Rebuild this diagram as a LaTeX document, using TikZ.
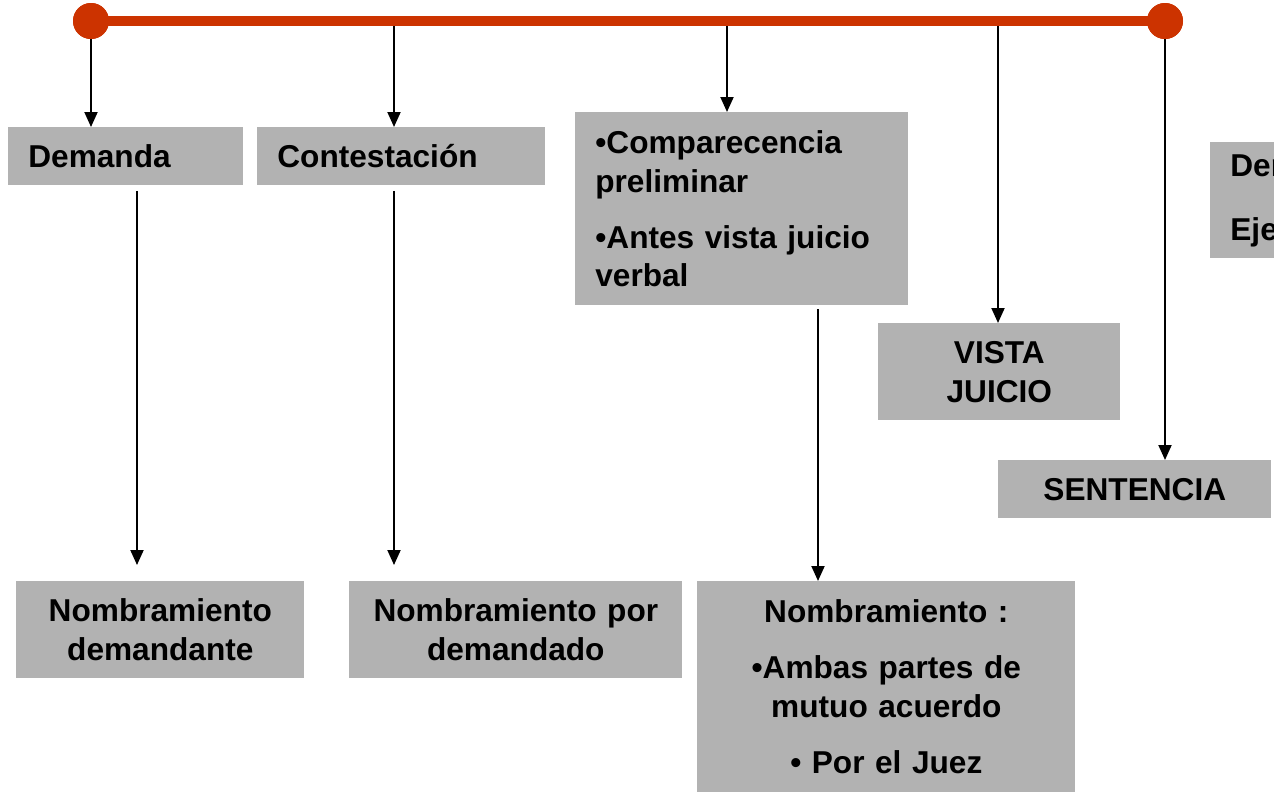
\documentclass[tikz,border=0pt]{standalone}
\usepackage{fontspec}
\setmainfont{Liberation Sans}
\usetikzlibrary{arrows.meta}
\definecolor{tlred}{HTML}{CC3300}
\definecolor{boxgray}{HTML}{B2B2B2}
\begin{document}
\begin{tikzpicture}[x=0.02cm,y=-0.02cm,
  box/.style={fill=boxgray,inner xsep=0.4cm,inner ysep=0pt,anchor=north west,
    font=\fontsize{18}{22}\selectfont\bfseries},
  lbox/.style={box,align=left},
  cbox/.style={box,align=center},
  arr/.style={line width=1.1pt,-{Triangle[length=0.3cm,width=0.26cm]}},
  dot/.style={circle,fill=tlred,inner sep=0pt,minimum size=0.72cm}]
\useasboundingbox (0,0) rectangle (1274,792);
\clip (0,0) rectangle (1274,792);
% boxes
\node[lbox,text width=3.9cm,minimum height=1.16cm] (dem) at (8,127) {Demanda};
\node[lbox,text width=4.96cm,minimum height=1.16cm] (con) at (257,127) {Contestación};
\node[lbox,text width=5.86cm,minimum height=3.86cm] (com) at (575,112)
  {•Comparecencia preliminar\\[10pt]•Antes vista juicio verbal};
\node[cbox,text width=4.04cm,minimum height=1.94cm] (vis) at (878,323) {VISTA\\JUICIO};
\node[cbox,text width=4.66cm,minimum height=1.16cm] (sen) at (998,460) {SENTENCIA};
\node[lbox,text width=3.9cm,minimum height=2.32cm] (eje) at (1210,142)
  {Demanda\\[14pt]Ejecución};
\node[cbox,text width=4.96cm,minimum height=1.94cm] (nd1) at (16,581) {Nombramiento\\demandante};
\node[cbox,text width=5.86cm,minimum height=1.94cm] (nd2) at (349,581) {Nombramiento por\\demandado};
\node[cbox,text width=6.76cm,minimum height=4.22cm] (nd3) at (697,581)
  {Nombramiento :\\[10pt]•Ambas partes de\\mutuo acuerdo\\[10pt]• Por el Juez};
% timeline
\node[dot] (tl) at (91,21) {};
\node[dot] (tr) at (1165,21) {};
% arrows from timeline
\draw[arr] (tl.center) -- (dem.north -| tl);
\draw[arr] (tl -| 394,0) -- (con.north -| 394,0);
\draw[arr] (tl -| 727,0) -- (com.north -| 727,0);
\draw[arr] (tl -| 998,0) -- (vis.north -| 998,0);
\draw[arr] (tr.center) -- (sen.north -| tr);
% arrows to appointment boxes
\draw[arr,shorten >=0.32cm] ([yshift=-3pt]dem.south -| 137,0) -- (nd1.north -| 137,0);
\draw[arr,shorten >=0.32cm] ([yshift=-3pt]con.south -| 394,0) -- (nd2.north -| 394,0);
\draw[arr] ([yshift=-2pt]com.south -| 818,0) -- (nd3.north -| 818,0);
% timeline bar on top
\draw[tlred,line width=0.2cm] (tl.center) -- (tr.center);
\node[dot] at (tl) {};
\node[dot] at (tr) {};
\end{tikzpicture}
\end{document}
